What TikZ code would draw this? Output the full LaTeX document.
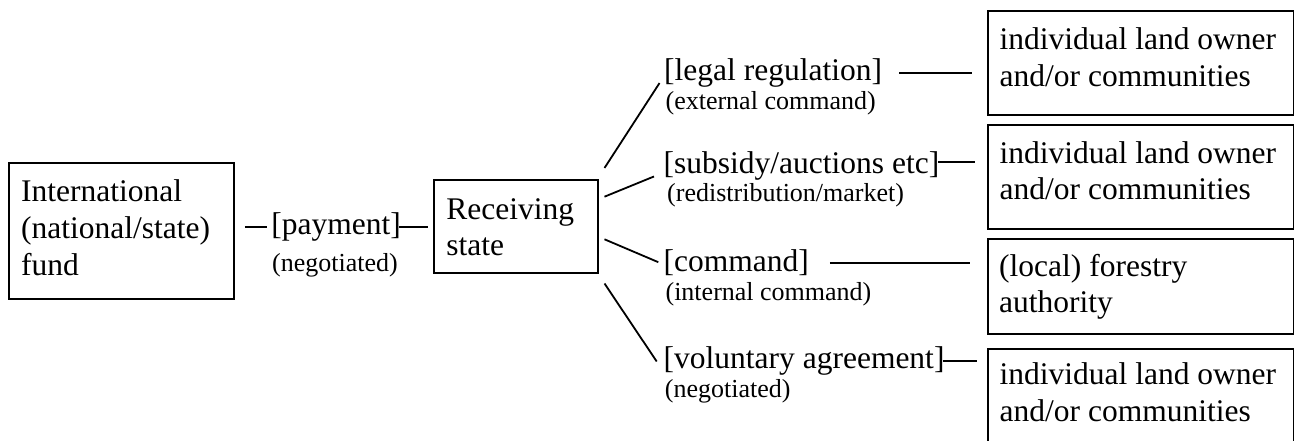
\documentclass[tikz,border=0pt]{standalone}
\usepackage{fontspec}
\setmainfont{Liberation Serif}
\usetikzlibrary{calc}
\newcommand{\bigtext}{\fontsize{31.5}{36.7}\selectfont}
\newcommand{\smalltext}{\fontsize{26}{30}\selectfont}
\newcommand{\boxlines}[1]{\begin{tabular}[t]{@{}l@{}}#1\end{tabular}}

\begin{document}
\begin{tikzpicture}[x=1pt,y=-1pt,
  box/.style={draw, line width=1.8pt, inner sep=0pt, anchor=north west},
  txt/.style={inner sep=0pt, anchor=base west, font=\bigtext},
  note/.style={inner sep=0pt, anchor=base west, font=\smalltext},
  link/.style={line width=1.8pt}]
\useasboundingbox (0,0) rectangle (1294,441);

% source fund and receiving state
\node[box, minimum width=225pt, minimum height=136pt] (fundbox) at (8,162) {};
\node[txt] (fundtext) at (21,202) {\boxlines{International\\(national/state)\\fund}};
\node[box, minimum width=163.4pt, minimum height=93pt] (statebox) at (433.3,179.3) {};
\node[txt] (statetext) at (446.2,219.3) {\boxlines{Receiving\\state}};

% payment between fund and state
\node[txt] (pay) at (271.2,234.5) {[payment]};
\node[note] (payn) at (272,271) {(negotiated)};

% instruments used by the state
\node[txt] (legal) at (664,80.7) {[legal regulation]};
\node[note] (legaln) at (665.4,110) {(external command)};
\node[txt] (subsidy) at (663.5,173.3) {[subsidy/auctions etc]};
\node[note] (subsidyn) at (667,202) {(redistribution/market)};
\node[txt] (command) at (663.5,271.7) {[command]};
\node[note] (commandn) at (665.4,300) {(internal command)};
\node[txt] (volunt) at (663.5,368.5) {[voluntary agreement]};
\node[note] (voluntn) at (664.7,397.5) {(negotiated)};

% addressees
\node[box, minimum width=306pt, minimum height=104pt] (own1) at (986.7,10) {};
\node[txt] (own1text) at (999.5,50) {\boxlines{individual land owner\\and/or communities}};
\node[box, minimum width=306pt, minimum height=104pt] (own2) at (986.7,124) {};
\node[txt] (own2text) at (999.5,163.3) {\boxlines{individual land owner\\and/or communities}};
\node[box, minimum width=306pt, minimum height=95.6pt] (forest) at (986.7,237.7) {};
\node[txt] (foresttext) at (999,276) {\boxlines{(local) forestry\\authority}};
\node[box, minimum width=306pt, minimum height=104pt] (own3) at (986.7,347.7) {};
\node[txt] (own3text) at (999.5,384.3) {\boxlines{individual land owner\\and/or communities}};

% connectors
\draw[link, shorten <=10pt, shorten >=4.5pt] (fundbox.east |- pay.west) -- (pay.west);
\draw[link, shorten <=-2.2pt, shorten >=5pt] (pay.east) -- (pay.east -| statebox.west);

\draw[link] ([shift={(6,-11.3)}]statebox.north east) -- ([shift={(-4.5,9.9)}]legal.west);
\draw[link] ([shift={(6,17.4)}]statebox.north east) -- ([shift={(-9.5,10.7)}]subsidy.west);
\draw[link] ([shift={(6,60)}]statebox.north east) -- ([shift={(-5.2,-0.7)}]command.west);
\draw[link] ([shift={(6,9.4)}]statebox.south east) -- ([shift={(-6.8,0.5)}]volunt.west);

\draw[link, shorten <=17pt, shorten >=14.7pt] (legal.east) -- (legal.east -| own1.west);
\draw[link, shorten <=-1pt, shorten >=11.7pt] ($(subsidy.east)+(0,-4)$) -- ($(subsidy.east -| own2.west)+(0,-4)$);
\draw[link, shorten <=20.7pt, shorten >=16.7pt] (command.east) -- (command.east -| forest.west);
\draw[link, shorten <=-1.2pt, shorten >=10pt] (volunt.east) -- (volunt.east -| own3.west);
\end{tikzpicture}
\end{document}
